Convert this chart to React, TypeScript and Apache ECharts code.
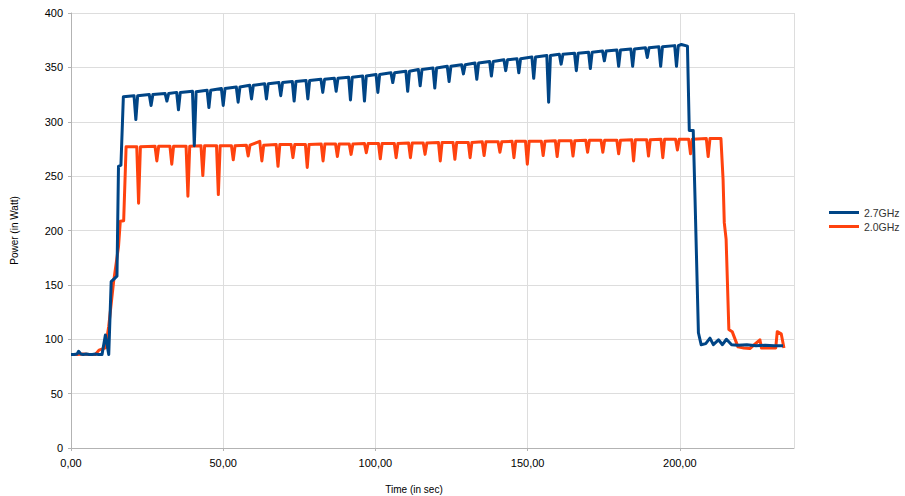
import React, { useEffect, useRef } from "react";
import * as echarts from "echarts";

// Series names (legend order)
const seriesNames = ["2.7GHz", "2.0GHz"];

// 2.7GHz: [time in sec, power in Watt]
const ghz27: [number, number][] = [
  [0, 86], [1, 86], [2, 86.5], [2.5, 89], [3.2, 86.5], [4, 86], [5, 86.5], [6, 86], [7, 86], [8, 86.5], [9, 86],
  [10.2, 86], [11.3, 104], [12.4, 86], [13.2, 153], [15.1, 158], [15.6, 259], [16.4, 260], [17.2, 323],
  [20.7, 324], [21.3, 302], [21.9, 324],
  [25.7, 325], [26.3, 315], [26.9, 325],
  [30.9, 326], [31.5, 319], [32.1, 326],
  [34.7, 327], [35.3, 311], [35.9, 327],
  [39.9, 328], [40.5, 278], [41.1, 327.5],
  [44.7, 329], [45.3, 313], [45.9, 329],
  [49.4, 330.5], [50, 315], [50.6, 330.5],
  [54.3, 332], [54.9, 318], [55.5, 332],
  [58.7, 333.5], [59.3, 321], [59.9, 333.5],
  [63.6, 335], [64.2, 321], [64.8, 335],
  [68.3, 336], [68.9, 324], [69.5, 336],
  [72.7, 337], [73.3, 319], [73.9, 337],
  [77.2, 338], [77.8, 321], [78.4, 338],
  [82.1, 339], [82.7, 327], [83.3, 339],
  [86.5, 340], [87.1, 328], [87.7, 340],
  [91.2, 341], [91.8, 320], [92.4, 341],
  [95.8, 342], [96.4, 319], [97, 342],
  [100.2, 343.5], [100.8, 327], [101.4, 343.5],
  [105.1, 345], [105.7, 336], [106.3, 345],
  [110, 346.5], [110.6, 328], [111.2, 346.5],
  [114.1, 348], [114.7, 333], [115.3, 348],
  [118.9, 349.5], [119.5, 331], [120.1, 349.5],
  [123.6, 351], [124.2, 337], [124.8, 351],
  [128.3, 352.5], [128.9, 344], [129.5, 352.5],
  [132.7, 354], [133.3, 339], [133.9, 354],
  [137.5, 355.5], [138.1, 342], [138.7, 355.5],
  [142.2, 357], [142.8, 347], [143.4, 357],
  [146.5, 358], [147.1, 345], [147.7, 358],
  [151.4, 359.5], [152, 340], [152.6, 359.5],
  [156.3, 361], [156.9, 318], [157.5, 361],
  [160.4, 362], [161, 353], [161.6, 362],
  [165.4, 363], [166, 347], [166.6, 363],
  [170, 364], [170.6, 349], [171.2, 364],
  [174.6, 365], [175.2, 356], [175.8, 365],
  [179.3, 366], [179.9, 351], [180.5, 366],
  [183.9, 367], [184.5, 351], [185.1, 367],
  [188.7, 368], [189.3, 359], [189.9, 368],
  [193.1, 369], [193.7, 351], [194.3, 369],
  [198.3, 370], [198.9, 351], [199.5, 370],
  [200.5, 371], [202.5, 369.5], [203.1, 292], [204.4, 292], [205, 228], [206.1, 106], [207, 95],
  [208.5, 96], [209.9, 101], [211, 95], [212.7, 99.5], [214, 95], [215.3, 100], [217, 95], [219, 94.5],
  [222, 95], [225, 94], [228, 94.5], [231, 94], [233.9, 94],
];

// 2.0GHz: [time in sec, power in Watt]
const ghz20: [number, number][] = [
  [0, 86], [2, 86], [4, 86.5], [6, 86], [8, 86], [9.2, 90], [11.3, 92], [12.4, 112], [14, 153], [15.6, 185],
  [16.2, 208.5], [17.3, 209], [18.1, 277],
  [21.6, 277], [22.2, 225], [22.8, 277],
  [27.6, 277.5], [28.2, 264], [28.8, 277.5],
  [32.5, 277.5], [33.1, 261], [33.7, 277.5],
  [37.8, 277.5], [38.4, 231.5], [39, 277.5],
  [42.7, 278], [43.3, 250.5], [43.9, 278],
  [47.8, 278], [48.4, 233], [49, 278],
  [52.7, 278], [53.3, 265], [53.9, 278],
  [57.6, 278.5], [58.2, 268.5], [58.8, 278.5],
  [62, 282], [62.7, 264], [63.3, 278.5],
  [67.4, 279], [68, 259], [68.6, 279],
  [72.3, 279], [72.9, 267], [73.5, 279],
  [77, 279], [77.6, 258], [78.2, 279],
  [82.2, 279.5], [82.8, 264], [83.4, 279.5],
  [86.9, 279.5], [87.5, 268], [88.1, 279.5],
  [91.4, 279.5], [92, 270], [92.6, 279.5],
  [96.4, 280], [97, 271.5], [97.6, 280],
  [101, 280], [101.6, 266], [102.2, 280],
  [106.2, 280], [106.8, 267], [107.4, 280],
  [110.9, 280.5], [111.5, 267], [112.1, 280.5],
  [115.7, 280.5], [116.3, 270], [116.9, 280.5],
  [120.7, 281], [121.3, 264], [121.9, 281],
  [125.5, 281], [126.1, 265.5], [126.7, 281],
  [130.5, 281], [131.1, 267], [131.7, 281],
  [135.1, 281.5], [135.7, 269], [136.3, 281.5],
  [140.3, 281.5], [140.9, 272], [141.5, 281.5],
  [144.9, 282], [145.5, 267], [146.1, 282],
  [149.3, 282], [149.9, 261], [150.5, 282],
  [154.5, 282], [155.1, 269], [155.7, 282],
  [159.1, 282.5], [159.7, 268], [160.3, 282.5],
  [164.3, 282.5], [164.9, 268.5], [165.5, 282.5],
  [169.1, 283], [169.7, 272], [170.3, 283],
  [174.1, 283], [174.7, 272], [175.3, 283],
  [179.3, 283], [179.9, 270.5], [180.5, 283],
  [184.2, 283.5], [184.8, 264], [185.4, 283.5],
  [189.1, 283.5], [189.7, 268.5], [190.3, 283.5],
  [193.8, 284], [194.4, 267], [195, 284],
  [198.6, 284], [199.2, 274], [199.8, 284],
  [202.9, 284], [203.5, 270.5], [204.1, 284],
  [208.7, 284.5], [209.3, 268], [209.9, 284.5],
  [213.5, 284.5], [214.2, 247], [214.6, 207], [215.2, 192], [216.1, 109], [217.2, 107], [219.1, 93],
  [221, 92], [223, 91.5], [226.3, 99.5], [226.8, 92], [229, 92], [231.5, 92], [232, 107], [233.3, 105], [234.2, 92],
];

const xTitle = "Time (in sec)";
const yTitle = "Power (in Watt)";

export default function App() {
  const ref = useRef<HTMLDivElement>(null);

  useEffect(() => {
    if (!ref.current) return;
    const chart = echarts.init(ref.current, null, { renderer: "svg" });
    const font = "'Liberation Sans', Arial, sans-serif";
    chart.setOption({
      animation: false,
      backgroundColor: "#ffffff",
      textStyle: { fontFamily: font },
      grid: { left: 71, right: 111, top: 13, bottom: 48, containLabel: false },
      legend: {
        data: seriesNames,
        orient: "vertical",
        left: 829,
        top: 207,
        padding: 0,
        itemGap: 3,
        itemWidth: 30,
        itemHeight: 3,
        icon: "rect",
        textStyle: { fontSize: 10.5, color: "#333333", fontFamily: font },
      },
      xAxis: {
        type: "value",
        min: 0,
        max: 237.5,
        interval: 50,
        axisLine: { show: true, lineStyle: { color: "#b3b3b3", width: 1 } },
        axisTick: { show: true, length: 3, lineStyle: { color: "#b3b3b3" } },
        splitLine: { show: true, lineStyle: { color: "#dddddd", width: 1 } },
        axisLabel: {
          showMaxLabel: false,
          margin: 9,
          fontSize: 11,
          color: "#000000",
          fontFamily: font,
          formatter: (v: number) => v.toFixed(2).replace(".", ","),
        },
      },
      yAxis: {
        type: "value",
        min: 0,
        max: 400,
        interval: 50,
        name: yTitle,
        nameLocation: "middle",
        nameGap: 52,
        nameTextStyle: { fontSize: 10, color: "#000000", fontFamily: font },
        axisLine: { show: true, lineStyle: { color: "#b3b3b3", width: 1 } },
        axisTick: { show: true, length: 3, lineStyle: { color: "#b3b3b3" } },
        splitLine: { show: true, lineStyle: { color: "#dddddd", width: 1 } },
        axisLabel: { margin: 8, fontSize: 11, color: "#000000", fontFamily: font },
      },
      graphic: [
        {
          type: "text",
          x: 414,
          y: 489,
          style: {
            text: xTitle,
            fontSize: 10,
            fill: "#000000",
            fontFamily: font,
            textAlign: "center",
            textVerticalAlign: "middle",
          },
        },
      ],
      series: [
        {
          name: seriesNames[0],
          type: "line",
          data: ghz27,
          showSymbol: false,
          symbol: "none",
          z: 3,
          lineStyle: { color: "#004586", width: 3, join: "round" },
          itemStyle: { color: "#004586" },
        },
        {
          name: seriesNames[1],
          type: "line",
          data: ghz20,
          showSymbol: false,
          symbol: "none",
          z: 2,
          lineStyle: { color: "#ff420e", width: 3, join: "round" },
          itemStyle: { color: "#ff420e" },
        },
      ],
    });
    return () => chart.dispose();
  }, []);

  return (
    <div
      ref={ref}
      style={{ position: "fixed", left: 0, top: 0, width: 905, height: 496, background: "#fff" }}
    />
  );
}
